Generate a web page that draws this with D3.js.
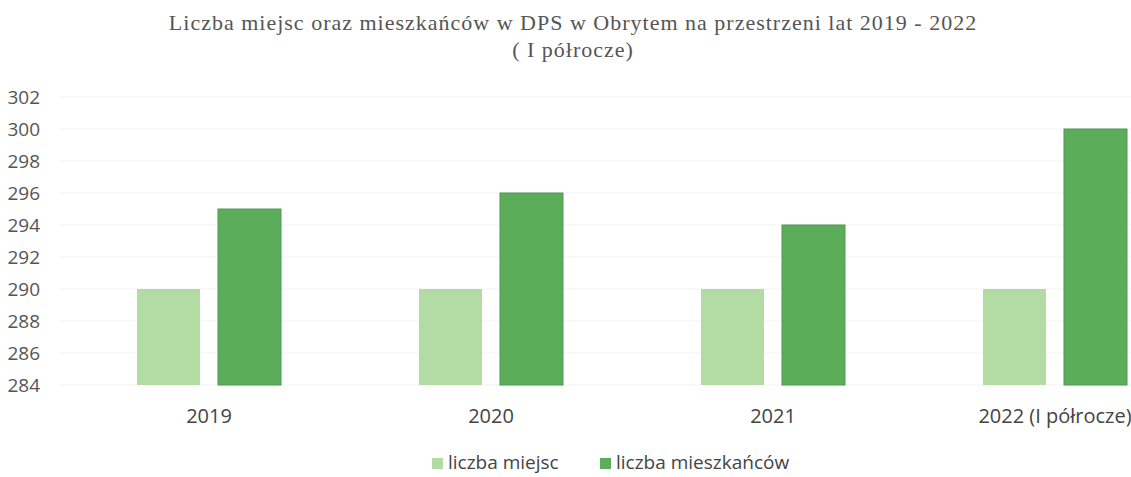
<!DOCTYPE html>
<html><head><meta charset="utf-8">
<script src="https://cdn.jsdelivr.net/npm/d3@7"></script>
<style>body{margin:0;background:#fff}</style>
</head><body>
<svg id="c" width="1131" height="477"></svg>
<script>
const categories = ["2019", "2020", "2021", "2022 (I półrocze)"];
const seriesNames = ["liczba miejsc", "liczba mieszkańców"];
const miejsc = [290, 290, 290, 290];
const mieszkancow = [295, 296, 294, 300];
const yTicks = [284, 286, 288, 290, 292, 294, 296, 298, 300, 302];
const titleLines = ["Liczba miejsc oraz mieszkańców w DPS w Obrytem na przestrzeni lat 2019 - 2022", "( I półrocze)"];
const colors = ["#b3dca4", "#5cad5a"];

const sans = "'Open Sans', sans-serif";
const svg = d3.select("#c");
const y = d3.scaleLinear().domain([284, 302]).range([385, 97]);
const x = d3.scaleBand().domain(categories).range([68, 1196]).paddingInner(0).paddingOuter(0);
const x1 = d3.scaleBand().domain(seriesNames).range([x.bandwidth()/2 - 72, x.bandwidth()/2 + 72]).paddingInner(0.222);

svg.append("g").selectAll("line").data(yTicks).join("line")
  .attr("x1", 60).attr("x2", 1131)
  .attr("y1", d => y(d)).attr("y2", d => y(d))
  .attr("stroke", "#f3f3f3").attr("stroke-width", 1);

const ya = svg.append("g").attr("transform", "translate(40,0)")
  .call(d3.axisLeft(y).tickValues(yTicks).tickSize(0).tickPadding(0));
ya.select(".domain").remove();
ya.selectAll("text").attr("font-family", sans).attr("font-size", 19).attr("fill", "#555");

const rows = categories.map((c, i) => ({c, vals: [miejsc[i], mieszkancow[i]]}));
const g = svg.append("g").selectAll("g").data(rows).join("g")
  .attr("transform", d => `translate(${x(d.c)},0)`);
g.selectAll("rect").data(d => d.vals.map((v, j) => ({s: seriesNames[j], v, j}))).join("rect")
  .attr("x", d => x1(d.s)).attr("width", x1.bandwidth())
  .attr("y", d => y(d.v)).attr("height", d => y(284) - y(d.v))
  .attr("fill", d => colors[d.j])
  .attr("stroke", d => d.j === 1 ? "#4f9a55" : "none").attr("stroke-width", 1);

const xa = svg.append("g").attr("transform", "translate(0,385)")
  .call(d3.axisBottom(x).tickSize(0).tickPadding(24));
xa.select(".domain").remove();
xa.selectAll("text").attr("font-family", sans).attr("font-size", 20).attr("fill", "#444");

svg.append("g").selectAll("text").data(titleLines).join("text")
  .attr("x", 573).attr("y", (d, i) => 30 + i * 27)
  .attr("text-anchor", "middle")
  .attr("font-family", "'Liberation Serif', 'DejaVu Serif', serif")
  .attr("font-size", 22).attr("letter-spacing", 1).attr("fill", "#555")
  .text(d => d);

const leg = svg.append("g");
const legX = [432, 600];
seriesNames.forEach((s, i) => {
  leg.append("rect").attr("x", legX[i]).attr("y", 458).attr("width", 11).attr("height", 11).attr("fill", colors[i]);
  leg.append("text").attr("x", legX[i] + 16).attr("y", 469)
    .attr("font-family", sans).attr("font-size", 19).attr("fill", "#444").text(s);
});
</script>
</body></html>
